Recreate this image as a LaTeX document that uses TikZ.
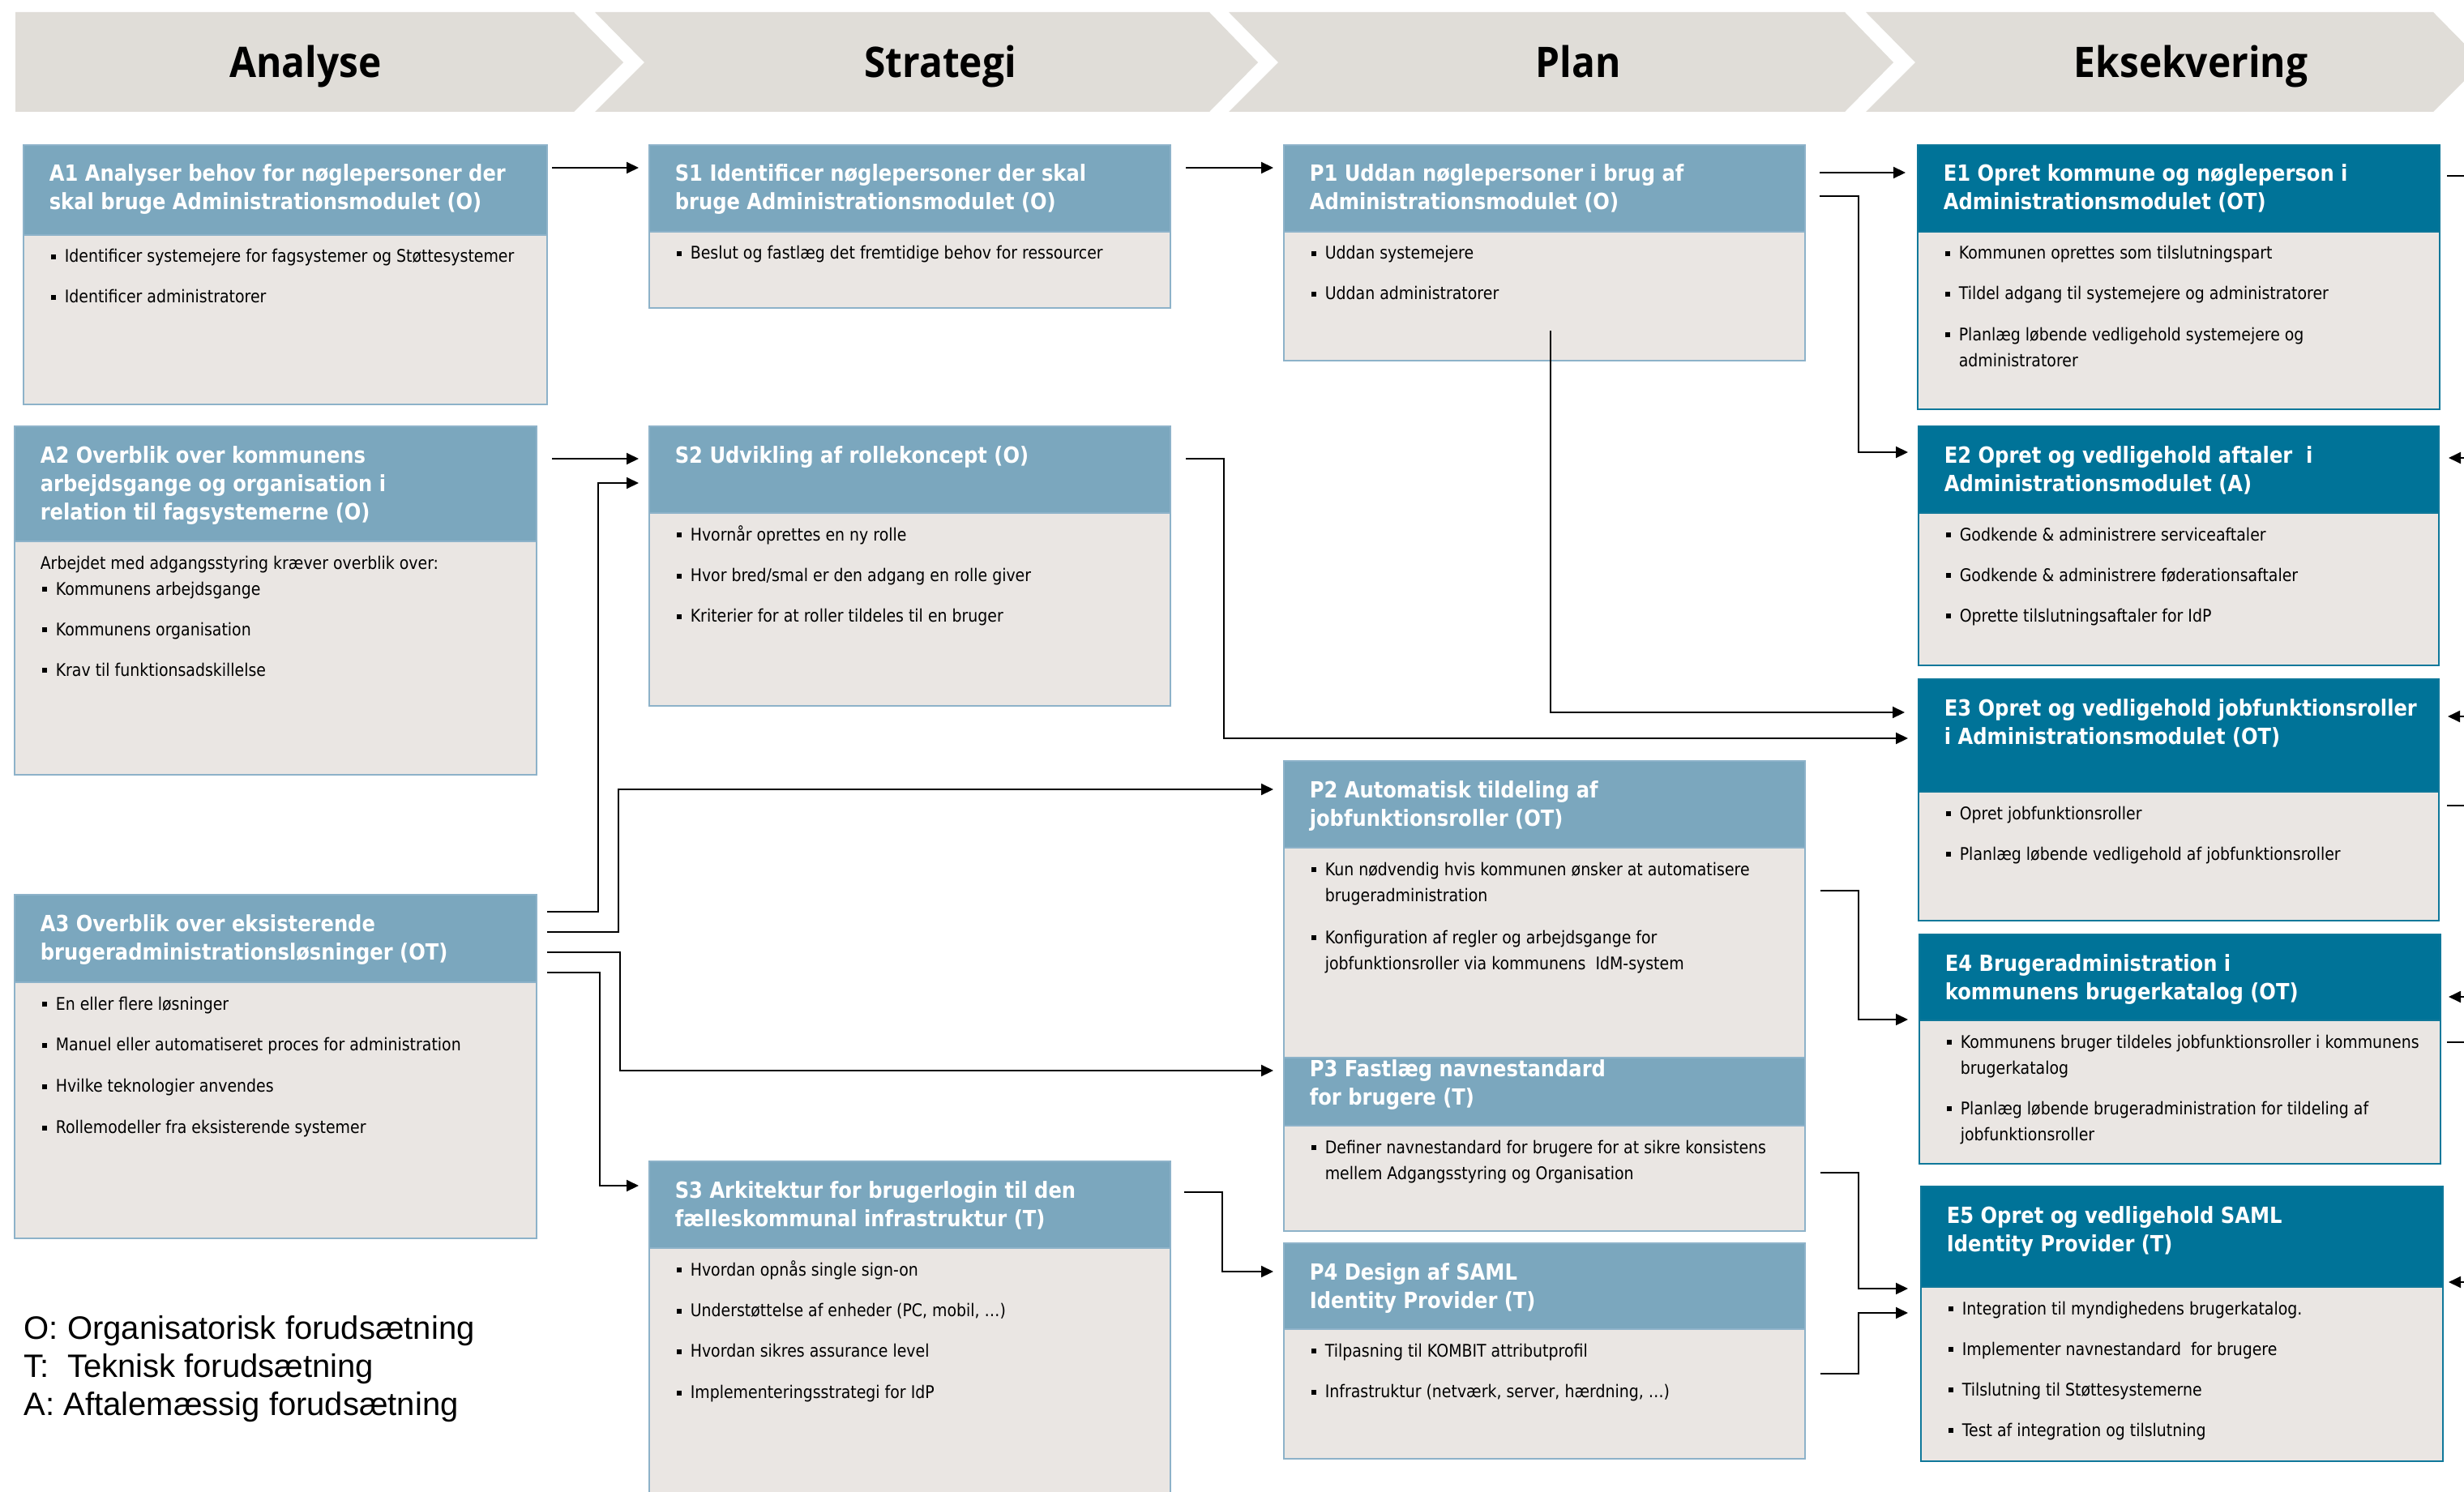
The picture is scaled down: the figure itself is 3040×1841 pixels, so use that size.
\documentclass[tikz,border=0pt]{standalone}
\usepackage{fontspec}
\setmainfont[FakeStretch=0.88]{DejaVu Sans}
\newfontfamily\hdrfont[FakeStretch=0.92]{Open Sans}
\newfontfamily\legfont{Liberation Sans}
\usetikzlibrary{arrows.meta,calc}
\definecolor{cChev}{HTML}{E0DDD8}
\definecolor{cHeadA}{HTML}{7BA7BE}
\definecolor{cBorderA}{HTML}{8DB2C9}
\definecolor{cBody}{HTML}{EAE6E3}
\definecolor{cHeadE}{HTML}{007398}
\definecolor{cBorderE}{HTML}{0F789A}
\tikzset{
  bodyA/.style={draw=cBorderA, line width=0.6pt, fill=cBody, inner sep=0pt, outer sep=0pt, anchor=north west},
  headA/.style={draw=cBorderA, line width=0.6pt, fill=cHeadA, inner sep=0pt, outer sep=0pt, anchor=north west},
  bodyE/.style={draw=cBorderE, line width=0.7pt, fill=cBody, inner sep=0pt, outer sep=0pt, anchor=north west},
  headE/.style={draw=cBorderE, line width=0.7pt, fill=cHeadE, inner sep=0pt, outer sep=0pt, anchor=north west},
  ttl/.style={anchor=base west, inner sep=0pt, text=white, font=\bfseries\fontsize{6.875pt}{8.75pt}\selectfont},
  txt/.style={anchor=base west, inner sep=0pt, text=black, font=\fontsize{5.375pt}{8pt}\selectfont},
  conn/.style={draw=black, line width=0.5pt, -{Triangle[length=3.75pt,width=3.5pt]}},
  plainline/.style={draw=black, line width=0.5pt},
  chev/.style={fill=cChev},
  phase/.style={anchor=base, inner sep=0pt, font=\hdrfont\bfseries\fontsize{13pt}{15pt}\selectfont},
  legend/.style={anchor=base west, inner sep=0pt, font=\legfont\fontsize{10pt}{11.75pt}\selectfont},
}
\newcommand\lns[1]{\begin{tabular}[t]{@{}l@{}}#1\end{tabular}}
\newcommand\bul{\makebox[4.25pt][l]{\rule[0.9pt]{1.5pt}{1.5pt}}}
\newcommand\ind{\hspace*{4.25pt}}
\def\ttloff{45}
% name, kind, x, y, w, header h, total h, title, body
\newcommand\mkbox[9]{%
  \node[body#2, minimum width=#5*0.25pt, minimum height=#7*0.25pt] (#1) at (#3,#4) {};
  \node[head#2, minimum width=#5*0.25pt, minimum height=#6*0.25pt] (#1h) at (#3,#4) {};
  \node[ttl] (#1t) at ($(#1.north west)+(31,\ttloff)$) {\lns{#8}};
  \node[txt] (#1x) at ($(#1.north west)+(33,#6+34)$) {\lns{#9}};
}
\begin{document}
\begin{tikzpicture}[x=0.25pt,y=-0.25pt]
\useasboundingbox (0,0) rectangle (3040,1841);
\fill[white] (0,0) rectangle (3040,1841);
\begin{scope}
\clip (0,0) rectangle (3040,1841);
% phase chevrons
\fill[chev] (19,15) -- (708,15) -- (769,77) -- (708,138) -- (19,138) -- cycle;
\fill[chev] (734,15) -- (1492,15) -- (1552,77) -- (1492,138) -- (734,138) -- (795,77) -- cycle;
\fill[chev] (1516,15) -- (2276,15) -- (2336,77) -- (2276,138) -- (1516,138) -- (1577,77) -- cycle;
\fill[chev] (2302,15) -- (3002,15) -- (3063,77) -- (3002,138) -- (2302,138) -- (2363,77) -- cycle;
\node[phase] (ph1) at (377,96) {Analyse};
\node[phase] (ph2) at (1160,96) {Strategi};
\node[phase] (ph3) at (1947,96) {Plan};
\node[phase] (ph4) at (2703,96) {Eksekvering};

% Analyse
\mkbox{A1}{A}{29}{179}{646}{111}{320}
 {A1 Analyser behov for nøglepersoner der\\skal bruge Administrationsmodulet (O)}
 {\bul Identificer systemejere for fagsystemer og Støttesystemer\\[4.5pt]
  \bul Identificer administratorer}
\mkbox{A2}{A}{18}{526}{644}{142}{430}
 {A2 Overblik over kommunens\\arbejdsgange og organisation i\\relation til fagsystemerne (O)}
 {\hspace*{-0.5pt}Arbejdet med adgangsstyring kræver overblik over:\\
  \bul Kommunens arbejdsgange\\[4.5pt]
  \bul Kommunens organisation\\[4.5pt]
  \bul Krav til funktionsadskillelse}
\mkbox{A3}{A}{18}{1104}{644}{108}{424}
 {A3 Overblik over eksisterende\\brugeradministrationsløsninger (OT)}
 {\bul En eller flere løsninger\\[4.7pt]
  \bul Manuel eller automatiseret proces for administration\\[4.7pt]
  \bul Hvilke teknologier anvendes\\[4.7pt]
  \bul Rollemodeller fra eksisterende systemer}

% Strategi
\mkbox{S1}{A}{801}{179}{643}{107}{201}
 {S1 Identificer nøglepersoner der skal\\bruge Administrationsmodulet (O)}
 {\bul Beslut og fastlæg det fremtidige behov for ressourcer}
\mkbox{S2}{A}{801}{526}{643}{107}{345}
 {S2 Udvikling af rollekoncept (O)}
 {\bul Hvornår oprettes en ny rolle\\[4.6pt]
  \bul Hvor bred/smal er den adgang en rolle giver\\[4.6pt]
  \bul Kriterier for at roller tildeles til en bruger}
\mkbox{S3}{A}{801}{1433}{643}{107}{437}
 {S3 Arkitektur for brugerlogin til den\\fælleskommunal infrastruktur (T)}
 {\bul Hvordan opnås single sign-on\\[4.6pt]
  \bul Understøttelse af enheder (PC, mobil, …)\\[4.6pt]
  \bul Hvordan sikres assurance level\\[4.6pt]
  \bul Implementeringsstrategi for IdP}

% Plan
\mkbox{P1}{A}{1584}{179}{643}{107}{266}
 {P1 Uddan nøglepersoner i brug af\\Administrationsmodulet (O)}
 {\bul Uddan systemejere\\[4.5pt]
  \bul Uddan administratorer}
\mkbox{P2}{A}{1584}{939}{643}{107}{366}
 {P2 Automatisk tildeling af\\jobfunktionsroller (OT)}
 {\bul Kun nødvendig hvis kommunen ønsker at automatisere\\
  \ind brugeradministration\\[5pt]
  \bul Konfiguration af regler og arbejdsgange for\\
  \ind jobfunktionsroller via kommunens\ \ IdM-system}
\def\ttloff{23}
\mkbox{P3}{A}{1584}{1305}{643}{84}{214}
 {P3 Fastlæg navnestandard\\for brugere (T)}
 {\bul Definer navnestandard for brugere for at sikre konsistens\\
  \ind mellem Adgangsstyring og Organisation}
\def\ttloff{45}
\mkbox{P4}{A}{1584}{1534}{643}{106}{266}
 {P4 Design af SAML\\Identity Provider (T)}
 {\bul Tilpasning til KOMBIT attributprofil\\[4.6pt]
  \bul Infrastruktur (netværk, server, hærdning, …)}

% Eksekvering
\mkbox{E1}{E}{2366}{179}{644}{107}{326}
 {E1 Opret kommune og nøgleperson i\\Administrationsmodulet (OT)}
 {\bul Kommunen oprettes som tilslutningspart\\[4.5pt]
  \bul Tildel adgang til systemejere og administratorer\\[4.5pt]
  \bul Planlæg løbende vedligehold systemejere og\\
  \ind administratorer}
\mkbox{E2}{E}{2367}{526}{642}{107}{295}
 {E2 Opret og vedligehold aftaler\ \ i\\Administrationsmodulet (A)}
 {\bul Godkende \& administrere serviceaftaler\\[4.5pt]
  \bul Godkende \& administrere føderationsaftaler\\[4.5pt]
  \bul Oprette tilslutningsaftaler for IdP}
\mkbox{E3}{E}{2367}{838}{642}{139}{298}
 {E3 Opret og vedligehold jobfunktionsroller\\i Administrationsmodulet (OT)}
 {\bul Opret jobfunktionsroller\\[4.5pt]
  \bul Planlæg løbende vedligehold af jobfunktionsroller}
\mkbox{E4}{E}{2368}{1153}{643}{106}{283}
 {E4 Brugeradministration i\\kommunens brugerkatalog (OT)}
 {\bul Kommunens bruger tildeles jobfunktionsroller i kommunens\\
  \ind brugerkatalog\\[4.5pt]
  \bul Planlæg løbende brugeradministration for tildeling af\\
  \ind jobfunktionsroller}
\mkbox{E5}{E}{2370}{1464}{644}{124}{339}
 {E5 Opret og vedligehold SAML\\Identity Provider (T)}
 {\bul Integration til myndighedens brugerkatalog.\\[4.5pt]
  \bul Implementer navnestandard\ \ for brugere\\[4.5pt]
  \bul Tilslutning til Støttesystemerne\\[4.5pt]
  \bul Test af integration og tilslutning}

% connectors
\draw[conn] ($(A1.north east)+(6,28)$) -- ($(S1.north west)+(-13,28)$);
\draw[conn] ($(S1.north east)+(19,28)$) -- ($(P1.north west)+(-13,28)$);
\draw[conn] ($(P1.north east)+(18,34)$) -- ($(E1.north west)+(-15,34)$);
\draw[conn] ($(P1.north east)+(18,63)$) -- ++(48,0) |- ($(E2.north west)+(-13,32)$);
\draw[conn] ($(P1.north west)+(329,229)$) |- ($(E3.north west)+(-17,41)$);
\draw[conn] ($(S2.north east)+(19,40)$) -- ++(47,0) |- ($(E3.north west)+(-13,73)$);
\draw[conn] ($(A2.north east)+(19,40)$) -- ($(S2.north west)+(-13,40)$);
\draw[conn] ($(A3.north east)+(13,21)$) -- ++(63,0) |- ($(S2.north west)+(-13,70)$);
\draw[conn] ($(A3.north east)+(13,46)$) -- ++(88,0) |- ($(P2.north west)+(-13,35)$);
\draw[conn] ($(A3.north east)+(13,71)$) -- ++(90,0) |- ($(P3.north west)+(-13,16)$);
\draw[conn] ($(A3.north east)+(13,96)$) -- ++(65,0) |- ($(S3.north west)+(-13,30)$);
\draw[conn] ($(S3.north east)+(17,38)$) -- ++(47,0) |- ($(P4.north west)+(-13,35)$);
\draw[conn] ($(P2.north east)+(19,160)$) -- ++(47,0) |- ($(E4.north west)+(-14,105)$);
\draw[conn] ($(P3.north east)+(19,142)$) -- ++(47,0) |- ($(E5.north west)+(-16,126)$);
\draw[conn] ($(P4.north east)+(19,161)$) -- ++(47,0) |- ($(E5.north west)+(-16,156)$);

% stubs to/from the right edge
\coordinate (o1) at (3060,217);
\coordinate (o2) at (3060,565);
\coordinate (o3) at (3060,884);
\coordinate (o4) at (3060,994);
\coordinate (o5) at (3060,1230);
\coordinate (o6) at (3060,1286);
\coordinate (o7) at (3060,1582);
\draw[plainline] ($(E1.north east)+(9,38)$) -- (o1);
\draw[conn] (o2) -- ($(E2.north east)+(12,39)$);
\draw[conn] (o3) -- ($(E3.north east)+(11,46)$);
\draw[plainline] ($(E3.north east)+(10,156)$) -- (o4);
\draw[conn] (o5) -- ($(E4.north east)+(10,77)$);
\draw[plainline] ($(E4.north east)+(8,133)$) -- (o6);
\draw[conn] (o7) -- ($(E5.north east)+(7,118)$);

% legend
\node[legend] (leg) at (29,1652) {\lns{O: Organisatorisk forudsætning\\T:\ \ Teknisk forudsætning\\A: Aftalemæssig forudsætning}};
\end{scope}
\end{tikzpicture}
\end{document}
